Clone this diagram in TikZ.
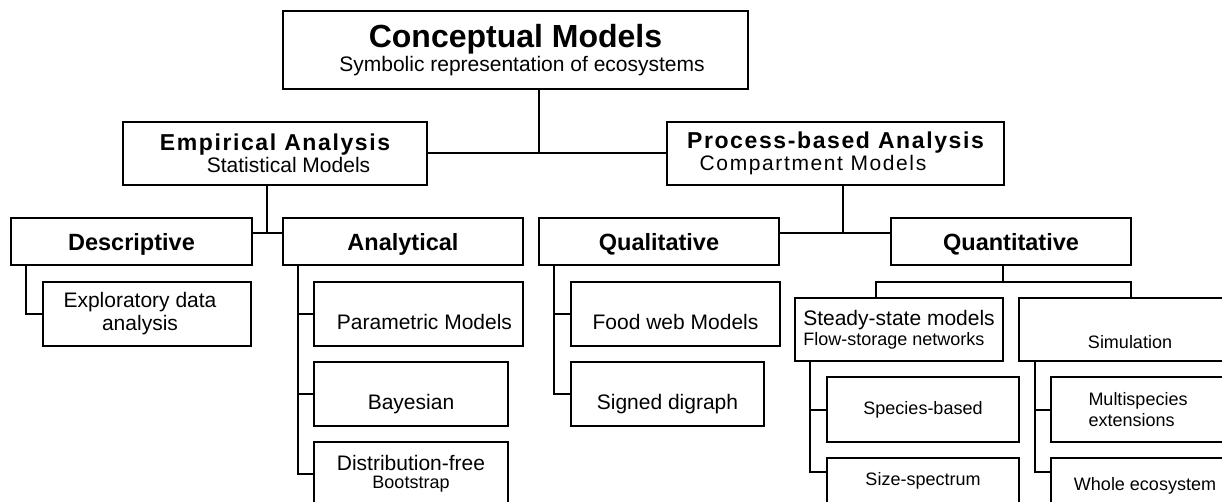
\documentclass[tikz,border=0pt]{standalone}
\usepackage{fontspec}
\setmainfont{Liberation Sans}
\usepackage{tikz}
\usetikzlibrary{calc}
\newcommand{\toptitle}{\fontsize{32}{32}\selectfont\bfseries}
\newcommand{\widetitle}{\fontsize{23}{23}\selectfont\bfseries\addfontfeatures{LetterSpace=7}}
\newcommand{\smalltext}{\fontsize{18}{18}\selectfont}
\tikzset{
	align=center,
	boxsize/.style 2 args={
		minimum width=#1pt,
		minimum height=#2pt,
	},
	model/.style={
		draw,
		rectangle,
		inner sep=0pt,
		font=\fontsize{21}{23}\selectfont,
	},
	head/.style={
		model,
		font=\fontsize{23.5}{26}\selectfont\bfseries,
		text height=19pt,
		text depth=0pt,
	},
	leaf/.style={
		model,
		text height=30pt,
		text depth=0pt,
	},
	small/.style={
		model,
		font=\fontsize{18}{21.6}\selectfont,
	},
}

\begin{document}
\begin{tikzpicture}[x=1pt,y=-1pt,line width=2pt]
		\useasboundingbox (0,0) rectangle (1222,502);
		\clip (0,0) rectangle (1222,502);

		\node[model, boxsize={465}{78}, font=\fontsize{21}{24}\selectfont] (concept) at (515.5,50) {{\toptitle Conceptual Models}\\\hspace*{13pt}Symbolic representation of ecosystems};

		\node[model, boxsize={304}{63}, font=\fontsize{21}{22}\selectfont] (empirical) at (275,153.5) {{\widetitle Empirical Analysis}\\\hspace*{27pt}Statistical Models};
		\node[model, boxsize={337}{63}, font=\fontsize{21}{22}\selectfont] (process) at (835.5,153.5) {{\widetitle Process-based Analysis}\\{\addfontfeatures{LetterSpace=7.7}Compartment Models}\hspace*{45pt}};

		\node[head, boxsize={241}{47}] (descr) at (131.5,241.5) {Descriptive};
		\node[head, boxsize={240}{47}] (analyt) at (403,241.5) {Analytical};
		\node[head, boxsize={240}{47}] (quali) at (659,241.5) {Qualitative};
		\node[head, boxsize={240}{47}] (quanti) at (1011,241.5) {Quantitative};

		\node[model, boxsize={208}{64}] (explor) at (147,314) {Exploratory data\hspace*{14pt}\\analysis\hspace*{14pt}};

		\node[leaf, boxsize={209}{64}] (param) at (418.5,314) {\hspace*{12pt}Parametric Models};
		\node[leaf, boxsize={194}{64}] (bayes) at (411,394) {Bayesian};
		\node[model, boxsize={194}{64}, font=\fontsize{21}{17.5}\selectfont] (distfree) at (411,474) {Distribution-free\\{\smalltext Bootstrap}};

		\node[leaf, boxsize={209}{64}] (foodweb) at (675.5,314) {Food web Models};
		\node[leaf, boxsize={193}{64}] (signed) at (667.5,394) {Signed digraph};

		\node[model, boxsize={208}{63}, align=left, font=\fontsize{21}{20}\selectfont] (steady) at (899,329.5) {Steady-state models\\{\smalltext Flow-storage networks}};
		\node[small, boxsize={222}{63}, text height=37pt, text depth=0pt] (simul) at (1130,329.5) {Simulation};

		\node[small, boxsize={192}{65}] (species) at (923,409.5) {Species-based};
		\node[small, boxsize={192}{46}] (sizespec) at (923,481) {Size-spectrum};
		\node[small, boxsize={174}{65}, align=left] (multi) at (1138,409.5) {Multispecies\\extensions};
		\node[small, boxsize={188}{56}] (whole) at (1145,486) {Whole ecosystem};

		\coordinate (cj) at (539,154);
		\coordinate (ej) at (267,233);
		\coordinate (pj) at (843,233);
		\coordinate (qj) at (1003,282);
		\coordinate (ql) at (876,282);
		\coordinate (qr) at (1131,282);

		\draw (empirical) -- (process);
		\draw (cj) -- (cj |- concept.south);
		\draw (descr.east |- ej) -- (analyt.west |- ej);
		\draw (ej) -- (ej |- empirical.south);
		\draw (quali.east |- pj) -- (quanti.west |- pj);
		\draw (pj) -- (pj |- process.south);
		\draw (qj) -- (qj |- quanti.south);
		\draw (ql |- steady.north) -- (ql) -- (qr) -- (qr |- simul.north);

		\coordinate (ds) at ($(explor.west)+(-16,0)$);
		\coordinate (as) at ($(param.west)+(-15,0)$);
		\coordinate (fs) at ($(foodweb.west)+(-16,0)$);
		\coordinate (ss) at ($(species.west)+(-16,0)$);
		\coordinate (sz) at ($(sizespec.north west)+(0,15)$);
		\coordinate (ms) at ($(multi.west)+(-15,0)$);
		\coordinate (wz) at ($(whole.north west)+(0,15)$);

		\draw (ds |- descr.south) -- (ds) -- (explor.west);
		\draw (as |- analyt.south) |- (distfree.west);
		\draw (as) -- (param.west);
		\draw (as |- bayes.west) -- (bayes.west);
		\draw (fs |- quali.south) |- (signed.west);
		\draw (fs) -- (foodweb.west);
		\draw (ss |- steady.south) |- (sz);
		\draw (ss) -- (species.west);
		\draw (ms |- simul.south) |- (wz);
		\draw (ms) -- (multi.west);

	\end{tikzpicture}
\end{document}
